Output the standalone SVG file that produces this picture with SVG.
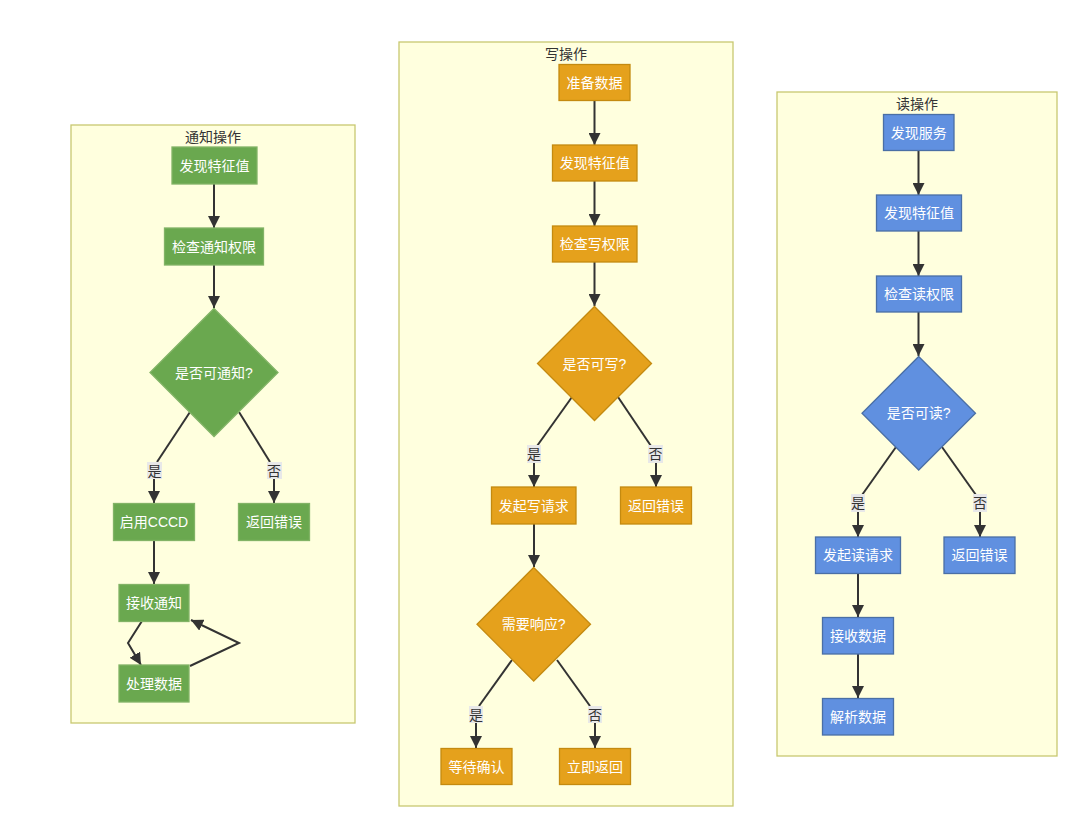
<svg xmlns="http://www.w3.org/2000/svg" width="1081" height="829" viewBox="0 0 1081 829">
<defs>
<marker id="arr" viewBox="0 0 10 10" refX="10" refY="5" markerWidth="6" markerHeight="6" markerUnits="strokeWidth" orient="auto">
<path d="M0,0 L10,5 L0,10 z" fill="#333"/>
</marker>
<style>
.cluster{fill:#ffffde;stroke:#c8c870;stroke-width:1.3}
.ctitle{font-family:"Liberation Sans","Noto Sans CJK SC",sans-serif;font-size:14px;fill:#333;text-anchor:middle}
.g{fill:#6aa84f;stroke:#82b366;stroke-width:1.3}
.o{fill:#e5a11c;stroke:#c48a10;stroke-width:1.3}
.b{fill:#6090e0;stroke:#4a6fa5;stroke-width:1.3}
.t{font-family:"Liberation Sans","Noto Sans CJK SC",sans-serif;font-size:14px;fill:#fff;text-anchor:middle;dominant-baseline:central}
.e{fill:none;stroke:#333;stroke-width:2;marker-end:url(#arr)}
.ln{fill:none;stroke:#333;stroke-width:2}
.lb{fill:#e8e8e8}
.lt{font-family:"Liberation Sans","Noto Sans CJK SC",sans-serif;font-size:14px;fill:#333;text-anchor:middle;dominant-baseline:central}
</style>
</defs>
<rect width="1081" height="829" fill="#fff"/>

<g id="cluster-notify">
<rect class="cluster" x="71" y="125" width="284" height="598"/>
<text class="ctitle" x="213" y="142">通知操作</text>
</g>
<g id="cluster-write">
<rect class="cluster" x="399" y="42" width="334" height="764"/>
<text class="ctitle" x="566" y="59">写操作</text>
</g>
<g id="cluster-read">
<rect class="cluster" x="777" y="92" width="280" height="664"/>
<text class="ctitle" x="917" y="109">读操作</text>
</g>

<g id="connectors">
<!-- notify -->
<path class="e" d="M214,184 L214,228"/>
<path class="e" d="M214,265 L214,308"/>
<path class="ln" d="M190,412 L157,462"/>
<path class="e" d="M154,479 L154,503"/>
<path class="ln" d="M239,412 L270,462"/>
<path class="e" d="M274,479 L274,503"/>
<path class="e" d="M154,541 L154,584"/>
<path class="e" d="M142,621 L128,643 L141,665"/>
<path class="e" d="M190,666 L239,643 L191,620"/>
<!-- write -->
<path class="e" d="M594.5,101 L594.5,145"/>
<path class="e" d="M594.5,181 L594.5,226"/>
<path class="e" d="M594.5,262 L594.5,306"/>
<path class="ln" d="M572,397 L537,446"/>
<path class="e" d="M534,463 L534,487"/>
<path class="ln" d="M618,397 L651,446"/>
<path class="e" d="M656,463 L656,487"/>
<path class="e" d="M534,524 L534,567"/>
<path class="ln" d="M512,660 L479,706"/>
<path class="e" d="M476,723 L476,748"/>
<path class="ln" d="M557,660 L590,706"/>
<path class="e" d="M595,723 L595,748"/>
<!-- read -->
<path class="e" d="M918.5,151 L918.5,195"/>
<path class="e" d="M918.5,231 L918.5,276"/>
<path class="e" d="M918.5,312 L918.5,356"/>
<path class="ln" d="M896,447 L862,495"/>
<path class="e" d="M858,512 L858,537"/>
<path class="ln" d="M942,447 L976,495"/>
<path class="e" d="M980,512 L980,537"/>
<path class="e" d="M858,573 L858,617"/>
<path class="e" d="M858,654 L858,698"/>
<!-- edge labels -->
<rect class="lb" x="147" y="462" width="15" height="17"/>
<text class="lt" x="154.5" y="470.5">是</text>
<rect class="lb" x="267" y="462" width="15" height="17"/>
<text class="lt" x="274" y="470.5">否</text>
<rect class="lb" x="527" y="445" width="14" height="18"/>
<text class="lt" x="534" y="454">是</text>
<rect class="lb" x="648" y="445" width="15" height="18"/>
<text class="lt" x="655.5" y="454">否</text>
<rect class="lb" x="469" y="706" width="14" height="17"/>
<text class="lt" x="476" y="714.5">是</text>
<rect class="lb" x="588" y="706" width="14" height="17"/>
<text class="lt" x="595" y="714.5">否</text>
<rect class="lb" x="851" y="494" width="14" height="18"/>
<text class="lt" x="858" y="503">是</text>
<rect class="lb" x="973" y="494" width="14" height="18"/>
<text class="lt" x="980" y="503">否</text>
</g>

<!-- notify nodes -->
<g id="n-discover-char-n"><rect class="g" x="172" y="147" width="85" height="37"/><text class="t" x="214.5" y="165.5">发现特征值</text></g>
<g id="n-check-notify"><rect class="g" x="164.5" y="228" width="99" height="37"/><text class="t" x="214" y="246.5">检查通知权限</text></g>
<g id="n-can-notify"><polygon class="g" points="214,308.5 278,372.5 214,436.5 150,372.5"/><text class="t" x="214" y="372.5">是否可通知?</text></g>
<g id="n-enable-cccd"><rect class="g" x="113.5" y="503.5" width="81" height="37"/><text class="t" x="154" y="522">启用CCCD</text></g>
<g id="n-err-n"><rect class="g" x="238.5" y="503.5" width="71" height="37"/><text class="t" x="274" y="522">返回错误</text></g>
<g id="n-recv-notify"><rect class="g" x="119" y="584.5" width="70" height="37"/><text class="t" x="154" y="603">接收通知</text></g>
<g id="n-process"><rect class="g" x="119" y="665" width="70" height="37"/><text class="t" x="154" y="683.5">处理数据</text></g>

<!-- write nodes -->
<g id="n-prepare"><rect class="o" x="559" y="64.5" width="71" height="36"/><text class="t" x="594.5" y="82.5">准备数据</text></g>
<g id="n-discover-char-w"><rect class="o" x="552.5" y="145" width="84.5" height="36"/><text class="t" x="594.7" y="163">发现特征值</text></g>
<g id="n-check-write"><rect class="o" x="552.5" y="226" width="84.5" height="36"/><text class="t" x="594.7" y="244">检查写权限</text></g>
<g id="n-can-write"><polygon class="o" points="594.5,306.5 651.5,363.5 594.5,420.5 537.5,363.5"/><text class="t" x="594.5" y="363.5">是否可写?</text></g>
<g id="n-write-req"><rect class="o" x="491.5" y="487" width="84.5" height="37"/><text class="t" x="533.7" y="505.5">发起写请求</text></g>
<g id="n-err-w"><rect class="o" x="620.5" y="487" width="71" height="37"/><text class="t" x="656" y="505.5">返回错误</text></g>
<g id="n-need-resp"><polygon class="o" points="533.7,567.5 590.5,624.3 533.7,681 477,624.3"/><text class="t" x="533.7" y="624.3">需要响应?</text></g>
<g id="n-wait-ack"><rect class="o" x="441" y="748.5" width="71" height="36"/><text class="t" x="476.5" y="766.5">等待确认</text></g>
<g id="n-return-now"><rect class="o" x="559.5" y="748.5" width="71" height="36"/><text class="t" x="595" y="766.5">立即返回</text></g>

<!-- read nodes -->
<g id="n-discover-svc"><rect class="b" x="883.5" y="114.5" width="70.5" height="36"/><text class="t" x="918.7" y="132.5">发现服务</text></g>
<g id="n-discover-char-r"><rect class="b" x="876.5" y="195" width="85" height="36"/><text class="t" x="919" y="213">发现特征值</text></g>
<g id="n-check-read"><rect class="b" x="876.5" y="276" width="85" height="36"/><text class="t" x="919" y="294">检查读权限</text></g>
<g id="n-can-read"><polygon class="b" points="918.7,356.5 975.5,413.3 918.7,470 862,413.3"/><text class="t" x="918.7" y="413.3">是否可读?</text></g>
<g id="n-read-req"><rect class="b" x="815.5" y="537" width="85" height="36.5"/><text class="t" x="858" y="555">发起读请求</text></g>
<g id="n-err-r"><rect class="b" x="944" y="537" width="71" height="36.5"/><text class="t" x="979.5" y="555">返回错误</text></g>
<g id="n-recv-data"><rect class="b" x="822.5" y="617.5" width="71" height="36.5"/><text class="t" x="858" y="635.7">接收数据</text></g>
<g id="n-parse"><rect class="b" x="822.5" y="698.5" width="71" height="36.5"/><text class="t" x="858" y="716.7">解析数据</text></g>
</svg>
